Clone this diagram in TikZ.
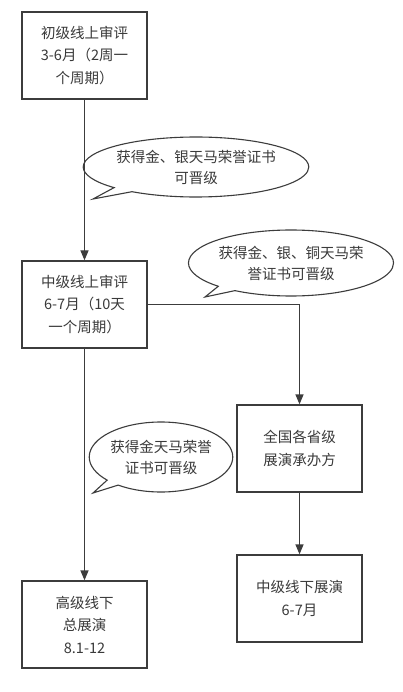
\documentclass[tikz,border=0pt]{standalone}
\usepackage{fontspec}
\setmainfont{Noto Sans CJK SC}
\usetikzlibrary{arrows.meta,shapes.callouts}
\definecolor{ink}{HTML}{3C3C3C}
\definecolor{txt}{HTML}{3A3A3A}
\begin{document}
\begin{tikzpicture}[x=1pt,y=-1pt,
  stepbox/.style={draw=ink,line width=1.3pt,minimum width=125pt,minimum height=87pt,inner sep=0pt,align=center,text=txt,font=\fontsize{14.5}{22.5}\selectfont},
  bubble/.style={ellipse callout,draw=ink,line width=1.1pt,inner sep=0pt,align=center,text=txt,font=\fontsize{14.5}{21}\selectfont,callout pointer arc=12},
  conn/.style={draw=ink,line width=1.3pt},
  arr/.style={conn,-{Triangle[length=10pt,width=8pt]}}]
\useasboundingbox[fill=white] (0,0) rectangle (403,692);
\node[stepbox] (b1) at (84.5,55.5) {初级线上审评\\3-6月（2周一\\个周期）};
\node[stepbox] (b2) at (84.5,304.5) {中级线上审评\\6-7月（10天\\一个周期）};
\node[stepbox] (b3) at (299.5,448.5) {全国各省级\\展演承办方};
\node[stepbox] (b4) at (299.5,598.5) {中级线下展演\\6-7月};
\node[stepbox] (b5) at (84.5,624.5) {高级线下\\总展演\\8.1-12};
\coordinate (t1) at (93,199);
\coordinate (t2) at (205,297);
\coordinate (t3) at (93,493);
\node[bubble,minimum width=208pt,minimum height=60pt,callout absolute pointer={(t1)}] (c1) at (196,167) {获得金、银天马荣誉证书\\可晋级};
\node[bubble,minimum width=178pt,minimum height=66pt,callout absolute pointer={(t2)}] (c2) at (291,263) {获得金、银、铜天马荣\\誉证书可晋级};
\node[bubble,minimum width=138pt,minimum height=70pt,callout absolute pointer={(t3)}] (c3) at (161,457) {获得金天马荣誉\\证书可晋级};
\draw[arr] (b1) -- (b2);
\draw[arr] (b2.east) -| (b3.north);
\draw[arr] (b3) -- (b4);
\draw[arr] (b2) -- (b5);
\end{tikzpicture}
\end{document}
